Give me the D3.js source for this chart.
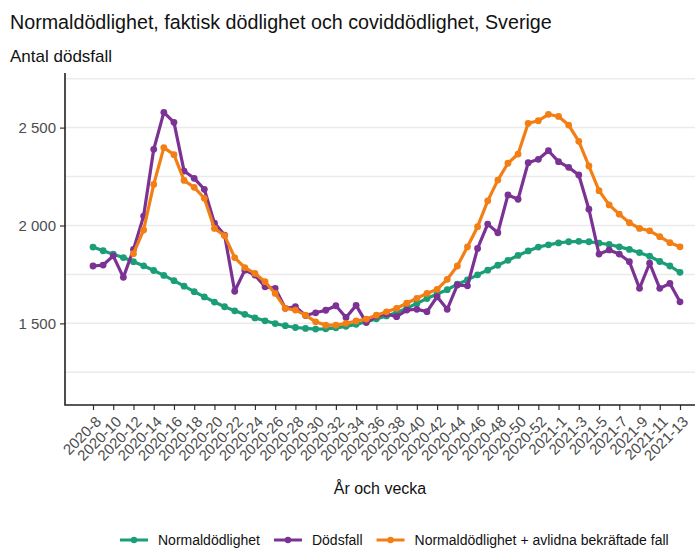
<!DOCTYPE html>
<html>
<head>
<meta charset="utf-8">
<script src="https://cdn.jsdelivr.net/npm/d3@7"></script>
<style>
  body { margin: 0; background: #fff; }
  svg { font-family: "Liberation Sans", Arial, sans-serif; }
</style>
</head>
<body>
<div id="chart"></div>
<script>
const WEEKS = [
  '2020-8', '2020-9', '2020-10', '2020-11', '2020-12', '2020-13', '2020-14', '2020-15',
  '2020-16', '2020-17', '2020-18', '2020-19', '2020-20', '2020-21', '2020-22', '2020-23',
  '2020-24', '2020-25', '2020-26', '2020-27', '2020-28', '2020-29', '2020-30', '2020-31',
  '2020-32', '2020-33', '2020-34', '2020-35', '2020-36', '2020-37', '2020-38', '2020-39',
  '2020-40', '2020-41', '2020-42', '2020-43', '2020-44', '2020-45', '2020-46', '2020-47',
  '2020-48', '2020-49', '2020-50', '2020-51', '2020-52', '2020-53', '2021-1', '2021-2',
  '2021-3', '2021-4', '2021-5', '2021-6', '2021-7', '2021-8', '2021-9', '2021-10',
  '2021-11', '2021-12', '2021-13'
];

// tick labels shown on the x axis (every other week)
const X_TICKS = [
  '2020-8', '2020-10', '2020-12', '2020-14', '2020-16', '2020-18', '2020-20', '2020-22',
  '2020-24', '2020-26', '2020-28', '2020-30', '2020-32', '2020-34', '2020-36', '2020-38',
  '2020-40', '2020-42', '2020-44', '2020-46', '2020-48', '2020-50', '2020-52', '2021-1',
  '2021-3', '2021-5', '2021-7', '2021-9', '2021-11', '2021-13'
];

const Y_TICKS = [1500, 2000, 2500];
const Y_MINOR = [1250, 1750, 2250, 2750];

const NORMAL = [
  1890, 1871, 1853, 1836, 1815, 1794, 1770, 1745, 1718, 1690, 1662, 1635, 1609, 1585, 1564, 1546,
  1528, 1513, 1499, 1488, 1479, 1474, 1471, 1472, 1477, 1485, 1495, 1508, 1523, 1538, 1555, 1577,
  1602, 1627, 1650, 1672, 1700, 1722, 1748, 1772, 1797, 1822, 1847, 1870, 1890, 1901, 1911, 1917,
  1919, 1917, 1910, 1903, 1891, 1878, 1861, 1843, 1816, 1793, 1761
];

const DEATHS = [
  1793, 1798, 1845, 1735, 1878, 2048, 2389, 2578, 2527, 2278, 2241, 2185, 2012, 1951, 1664, 1772,
  1747, 1687, 1679, 1577, 1585, 1540, 1554, 1567, 1590, 1530, 1592, 1504, 1537, 1548, 1534, 1568,
  1572, 1560, 1636, 1572, 1696, 1692, 1883, 2007, 1963, 2156, 2134, 2321, 2338, 2382, 2326, 2297,
  2258, 2083, 1854, 1875, 1854, 1815, 1679, 1807, 1679, 1704, 1610
];

const NORMAL_PLUS_COVID = [
  null, null, null, null, 1856, 1977, 2210, 2398, 2362, 2230, 2195, 2139, 1985, 1948, 1836, 1785,
  1755, 1713, 1653, 1577, 1568, 1542, 1508, 1491, 1491, 1500, 1512, 1522, 1542, 1559, 1577, 1603,
  1628, 1653, 1674, 1725, 1793, 1891, 1994, 2126, 2232, 2318, 2365, 2522, 2535, 2568, 2557, 2513,
  2430, 2304, 2178, 2105, 2058, 2014, 1985, 1973, 1943, 1912, 1891
];

const SERIES = [
  { name: 'Normaldödlighet', values: NORMAL, color: '#1b9e77' },
  { name: 'Dödsfall', values: DEATHS, color: '#7b3294' },
  { name: 'Normaldödlighet + avlidna bekräftade fall', values: NORMAL_PLUS_COVID, color: '#f37e14' },
];

const W = 700, H = 560;
const panel = { left: 65, right: 695, top: 73, bottom: 405 };

const svg = d3.select('#chart').append('svg')
  .attr('width', W).attr('height', H);

svg.append('text')
  .attr('x', 10).attr('y', 29)
  .attr('font-size', '19.7px')
  .attr('fill', '#111')
  .text('Normaldödlighet, faktisk dödlighet och coviddödlighet, Sverige');

svg.append('text')
  .attr('x', 10).attr('y', 62)
  .attr('font-size', '17px')
  .attr('fill', '#111')
  .text('Antal dödsfall');

const x = d3.scalePoint()
  .domain(WEEKS)
  .range([93, 680]);

const y = d3.scaleLinear()
  .domain([1083, 2779])
  .range([panel.bottom, panel.top]);

// grid
svg.append('g')
  .selectAll('line')
  .data(Y_TICKS.concat(Y_MINOR))
  .join('line')
  .attr('x1', panel.left).attr('x2', panel.right)
  .attr('y1', d => y(d)).attr('y2', d => y(d))
  .attr('stroke', '#ebebeb')
  .attr('stroke-width', 1.5);

// y axis
const yAxis = svg.append('g')
  .attr('transform', `translate(${panel.left},0)`)
  .call(d3.axisLeft(y).tickValues(Y_TICKS).tickSize(5).tickPadding(4)
    .tickFormat(d => d3.format(',')(d).replace(',', ' ')));
yAxis.select('.domain').remove();
yAxis.selectAll('.tick line').attr('stroke', '#333').attr('stroke-width', 1.2);
yAxis.selectAll('.tick text')
  .attr('font-size', '15px')
  .attr('fill', '#4d4d4d')
  .attr('font-family', '"Liberation Sans", Arial, sans-serif');

// x axis
const xAxis = svg.append('g')
  .attr('transform', `translate(0,${panel.bottom})`)
  .call(d3.axisBottom(x).tickValues(X_TICKS).tickSize(5));
xAxis.select('.domain').remove();
xAxis.selectAll('.tick line').attr('stroke', '#333').attr('stroke-width', 1.2);
xAxis.selectAll('.tick text')
  .attr('font-size', '15px')
  .attr('fill', '#4d4d4d')
  .attr('font-family', '"Liberation Sans", Arial, sans-serif')
  .attr('text-anchor', 'end')
  .attr('x', 0).attr('y', 0)
  .attr('dy', '0.35em')
  .attr('transform', 'translate(5,14) rotate(-45)');

// axis lines
svg.append('path')
  .attr('d', `M${panel.left},${panel.top}V${panel.bottom}H${panel.right}`)
  .attr('fill', 'none')
  .attr('stroke', '#222')
  .attr('stroke-width', 1.6);

svg.append('text')
  .attr('x', 380).attr('y', 494)
  .attr('text-anchor', 'middle')
  .attr('font-size', '16px')
  .attr('fill', '#111')
  .text('År och vecka');

// lines + points
const line = d3.line()
  .defined(d => d != null)
  .x((d, i) => x(WEEKS[i]))
  .y(d => y(d));

SERIES.forEach(s => {
  const g = svg.append('g');
  g.append('path')
    .datum(s.values)
    .attr('fill', 'none')
    .attr('stroke', s.color)
    .attr('stroke-width', 3.2)
    .attr('stroke-linejoin', 'round')
    .attr('d', line);
  g.selectAll('circle')
    .data(s.values.map((v, i) => ({ v, i })).filter(d => d.v != null))
    .join('circle')
    .attr('cx', d => x(WEEKS[d.i]))
    .attr('cy', d => y(d.v))
    .attr('r', 3.4)
    .attr('fill', s.color);
});

// legend
const legend = svg.append('g').attr('transform', 'translate(0,540)');
let lx = 120;
SERIES.forEach(s => {
  const item = legend.append('g').attr('transform', `translate(${lx},0)`);
  item.append('line')
    .attr('x1', 0).attr('x2', 28)
    .attr('stroke', s.color).attr('stroke-width', 3);
  item.append('circle')
    .attr('cx', 14).attr('r', 3.2).attr('fill', s.color);
  const t = item.append('text')
    .attr('x', 38).attr('dy', '0.35em')
    .attr('font-size', '14px')
    .attr('fill', '#111')
    .text(s.name);
  lx += 38 + t.node().getComputedTextLength() + 14;
});
</script>
</body>
</html>
